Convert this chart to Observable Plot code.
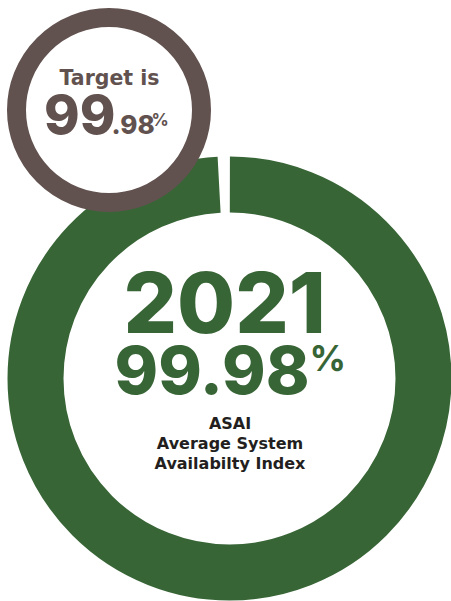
<!DOCTYPE html>
<html>
<head>
<meta charset="utf-8">
<script src="https://cdn.jsdelivr.net/npm/d3@7"></script>
<script src="https://cdn.jsdelivr.net/npm/@observablehq/plot@0.6"></script>
<style>
  html, body { margin: 0; padding: 0; background: #ffffff; }
  #chart { width: 451px; height: 601px; overflow: hidden; }
  svg { display: block; }
</style>
</head>
<body>
<div id="chart"></div>
<script>
// ---- data ----
const rings = ["ASAI 2021", "Target"];
const ringValues = [99.98, 99.98];
const yearLabel = ["2021"];
const targetLabel = ["Target is"];
const indexLines = ["ASAI", "Average System", "Availabilty Index"];
const gapDegrees = [3.2]; // decorative opening at the top of the result ring

// ---- layout & style (kept apart from the data) ----
const W = 451, H = 601;
const green = "#386536", brown = "#62524f", ink = "#231f20";
const display = "Inter, Roboto, sans-serif";
const body = "'DejaVu Sans', Verdana, sans-serif";

const big = {cx: 229, cy: 378, rOuter: 222, rInner: 166};
const small = {cx: 108.5, cy: 109.5, rOuter: 102, rInner: 83};

const bigMid = (big.rOuter + big.rInner) / 2;
const bigWidth = big.rOuter - big.rInner;
const C = 2 * Math.PI * bigMid;
const arcDeg = 360 - gapDegrees[0];
const dash = C * arcDeg / 360, gap = C * gapDegrees[0] / 360;

const smallMid = (small.rOuter + small.rInner) / 2;
const smallWidth = small.rOuter - small.rInner;

const ringData = rings.map((name, i) => ({name, value: ringValues[i]}));
const fmtInt = v => String(Math.floor(v));
const fmtFrac = v => "." + (v.toFixed(2).split(".")[1]);

const resultRing = ringData[0], targetRing = ringData[1];

const chart = Plot.plot({
  width: W,
  height: H,
  margin: 0,
  x: {type: "linear", domain: [0, W], range: [0, W], axis: null},
  y: {type: "linear", domain: [0, H], range: [0, H], axis: null},
  style: {fontFamily: display, background: "transparent"},
  marks: [
    // result ring
    Plot.dot([resultRing], {
      x: () => big.cx, y: () => big.cy, r: bigMid,
      fill: "none", stroke: green, strokeWidth: bigWidth,
      strokeDasharray: `${dash} ${gap}`, strokeDashoffset: C / 4
    }),
    // target ring
    Plot.dot([targetRing], {
      x: () => small.cx, y: () => small.cy, r: smallMid,
      fill: "white", stroke: brown, strokeWidth: smallWidth
    }),
    // target text
    Plot.text(targetLabel, {x: () => 109, y: () => 84, text: d => d, lineAnchor: "bottom",
      fontFamily: body, fontSize: 20.5, fontWeight: 700, fill: brown, textAnchor: "middle"}),
    Plot.text([targetRing], {x: () => 115, y: () => 133, text: d => fmtInt(d.value), lineAnchor: "bottom",
      fontSize: 54, fontWeight: 800, fill: brown, textAnchor: "end"}),
    Plot.text([targetRing], {x: () => 111, y: () => 133, text: d => fmtFrac(d.value), lineAnchor: "bottom",
      fontSize: 26, fontWeight: 800, fill: brown, textAnchor: "start"}),
    Plot.text([targetRing], {x: () => 151, y: () => 125.5, text: () => "%", lineAnchor: "bottom",
      fontSize: 17, fontWeight: 700, fill: brown, textAnchor: "start"}),
    // result text
    Plot.text(yearLabel, {x: () => 123, y: () => 332, text: d => d, lineAnchor: "bottom",
      fontSize: 84, fontWeight: 800, fill: green, textAnchor: "start"}),
    Plot.text([resultRing], {x: () => 114, y: () => 393, text: d => d.value.toFixed(2), lineAnchor: "bottom",
      fontSize: 66, fontWeight: 800, fill: green, textAnchor: "start"}),
    Plot.text([resultRing], {x: () => 309, y: () => 370, text: () => "%", lineAnchor: "bottom",
      fontSize: 36, fontWeight: 700, fill: green, textAnchor: "start"}),
    Plot.text(indexLines, {x: () => 229.5, y: (d, i) => 428.3 + i * 20, text: d => d, lineAnchor: "bottom",
      fontFamily: body, fontSize: 16, fontWeight: 700, fill: ink, textAnchor: "middle"})
  ]
});
document.getElementById("chart").appendChild(chart);
</script>
</body>
</html>
